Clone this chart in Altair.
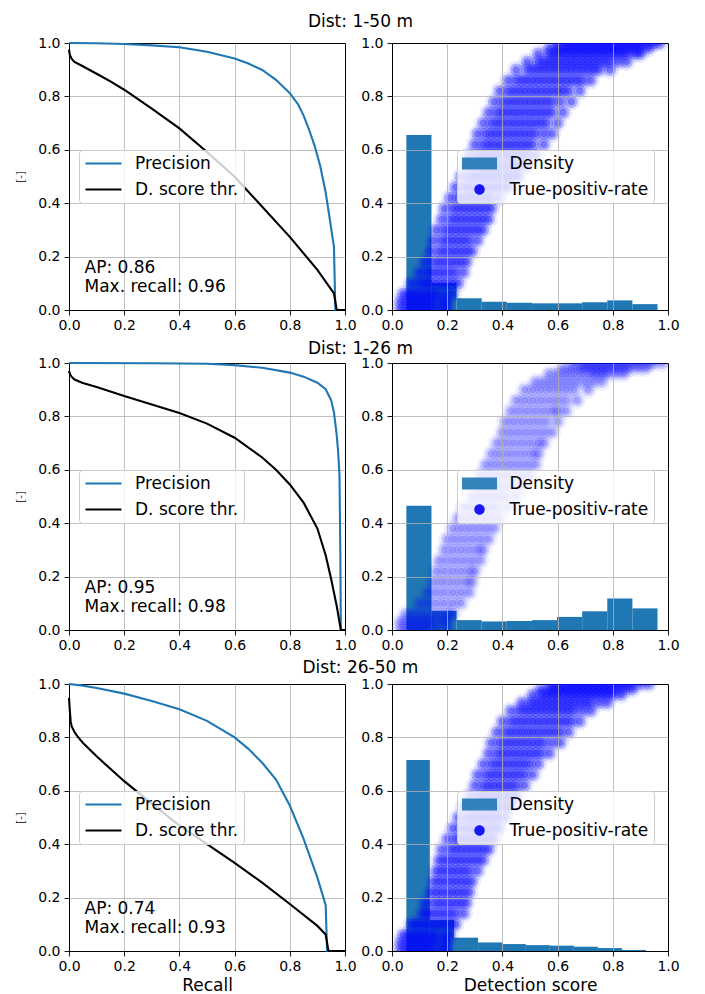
import altair as alt
import pandas as pd

FONT = "DejaVu Sans"
TICKS = [0.0, 0.2, 0.4, 0.6, 0.8, 1.0]
ROW_TITLES = ["Dist: 1-50 m", "Dist: 1-26 m", "Dist: 26-50 m"]
AP_TEXT = [["AP: 0.86", "Max. recall: 0.96"],
           ["AP: 0.95", "Max. recall: 0.98"],
           ["AP: 0.74", "Max. recall: 0.93"]]
SERIES_L = ["Precision", "D. score thr."]
SERIES_R = ["Density", "True-positiv-rate"]

# ---- precision / recall curves (left column) ----
PREC_RECALL = [
    [0.0, 0.1, 0.2, 0.3, 0.4, 0.5, 0.6, 0.65, 0.7, 0.75, 0.8, 0.83, 0.85, 0.87, 0.89, 0.91, 0.93, 0.945, 0.955, 0.96, 0.965, 1.0],
    [0.0, 0.3, 0.5, 0.6, 0.7, 0.8, 0.85, 0.9, 0.93, 0.95, 0.96, 0.97, 0.975, 0.98, 0.983, 0.985, 1.0],
    [0.0, 0.05, 0.1, 0.2, 0.3, 0.4, 0.5, 0.6, 0.65, 0.7, 0.75, 0.8, 0.85, 0.9, 0.93, 0.935, 1.0],
]
PREC_VALUE = [
    [1.0, 0.999, 0.996, 0.991, 0.984, 0.967, 0.942, 0.923, 0.899, 0.862, 0.812, 0.77, 0.728, 0.675, 0.615, 0.54, 0.44, 0.34, 0.27, 0.237, 0.0, 0.0],
    [1.0, 0.999, 0.997, 0.992, 0.982, 0.964, 0.949, 0.926, 0.902, 0.86, 0.815, 0.73, 0.67, 0.58, 0.3, 0.0, 0.0],
    [1.0, 0.994, 0.985, 0.964, 0.936, 0.905, 0.862, 0.80, 0.757, 0.705, 0.642, 0.545, 0.42, 0.275, 0.172, 0.0, 0.0],
]
THR_RECALL = [
    [0.0, 0.003, 0.01, 0.02, 0.05, 0.1, 0.15, 0.2, 0.3, 0.4, 0.5, 0.6, 0.7, 0.8, 0.9, 0.96, 0.97, 1.0],
    [0.0, 0.005, 0.01, 0.02, 0.05, 0.1, 0.2, 0.3, 0.4, 0.5, 0.6, 0.7, 0.75, 0.8, 0.85, 0.9, 0.93, 0.95, 0.97, 0.985, 1.0],
    [0.0, 0.003, 0.006, 0.01, 0.02, 0.03, 0.05, 0.1, 0.2, 0.3, 0.4, 0.5, 0.6, 0.7, 0.8, 0.9, 0.93, 0.94, 1.0],
]
THR_VALUE = [
    [0.975, 0.955, 0.94, 0.929, 0.913, 0.885, 0.856, 0.825, 0.754, 0.68, 0.592, 0.499, 0.387, 0.274, 0.15, 0.062, 0.0, 0.0],
    [0.97, 0.955, 0.948, 0.938, 0.925, 0.91, 0.876, 0.845, 0.813, 0.773, 0.72, 0.646, 0.60, 0.545, 0.477, 0.38, 0.28, 0.19, 0.09, 0.0, 0.0],
    [0.948, 0.90, 0.86, 0.84, 0.82, 0.805, 0.78, 0.729, 0.636, 0.552, 0.47, 0.40, 0.33, 0.256, 0.176, 0.094, 0.062, 0.0, 0.0],
]

# ---- detection score histograms (right column) ----
HIST_EDGES = [
    [0.052, 0.143, 0.234, 0.325, 0.416, 0.507, 0.598, 0.689, 0.780, 0.871, 0.962],
    [0.052, 0.143, 0.234, 0.325, 0.416, 0.507, 0.598, 0.689, 0.780, 0.871, 0.962],
    [0.052, 0.137, 0.225, 0.312, 0.399, 0.485, 0.572, 0.659, 0.746, 0.833, 0.920],
]
HIST_DENS = [
    [0.655, 0.101, 0.044, 0.031, 0.027, 0.025, 0.025, 0.029, 0.036, 0.022],
    [0.465, 0.072, 0.037, 0.032, 0.034, 0.037, 0.049, 0.070, 0.118, 0.081],
    [0.715, 0.116, 0.050, 0.032, 0.026, 0.022, 0.020, 0.016, 0.011, 0.004],
]

# ---- true-positive-rate scatter: y levels and the scores seen at each level ----
TPR_LEVELS = [0.00, 0.03, 0.06, 0.10, 0.14, 0.18, 0.22, 0.26, 0.30, 0.34, 0.38, 0.42, 0.46, 0.50,
              0.54, 0.58, 0.62, 0.66, 0.70, 0.74, 0.78, 0.82, 0.86, 0.90, 0.93, 0.96, 0.98, 1.00]
TPR_SCORES_1 = [
    [0.03, 0.05, 0.07, 0.09, 0.11, 0.13, 0.15, 0.18, 0.20],
    [0.03, 0.05, 0.07, 0.09, 0.11, 0.13, 0.15, 0.18, 0.20],
    [0.04, 0.06, 0.08, 0.10, 0.12, 0.14, 0.16, 0.19, 0.22],
    [0.07, 0.10, 0.12, 0.14, 0.16, 0.18, 0.20, 0.22, 0.24],
    [0.10, 0.13, 0.15, 0.17, 0.19, 0.21, 0.23, 0.26],
    [0.12, 0.15, 0.17, 0.19, 0.21, 0.23, 0.25, 0.27],
    [0.14, 0.17, 0.19, 0.21, 0.23, 0.25, 0.27, 0.29],
    [0.15, 0.18, 0.20, 0.22, 0.24, 0.26, 0.28, 0.31],
    [0.16, 0.19, 0.21, 0.23, 0.25, 0.27, 0.29, 0.31, 0.33],
    [0.18, 0.21, 0.23, 0.25, 0.27, 0.29, 0.31, 0.33, 0.35],
    [0.19, 0.22, 0.24, 0.26, 0.28, 0.30, 0.32, 0.34, 0.36],
    [0.21, 0.24, 0.26, 0.28, 0.30, 0.32, 0.34, 0.36, 0.39],
    [0.23, 0.26, 0.28, 0.30, 0.32, 0.34, 0.36, 0.38, 0.40, 0.42],
    [0.25, 0.28, 0.30, 0.32, 0.34, 0.36, 0.38, 0.40, 0.42, 0.44, 0.46],
    [0.27, 0.30, 0.32, 0.34, 0.36, 0.38, 0.40, 0.42, 0.44, 0.46, 0.49],
    [0.28, 0.31, 0.33, 0.35, 0.37, 0.39, 0.41, 0.43, 0.45, 0.47, 0.49, 0.52],
    [0.30, 0.33, 0.35, 0.37, 0.39, 0.41, 0.43, 0.45, 0.47, 0.49, 0.51, 0.55],
    [0.31, 0.34, 0.36, 0.38, 0.40, 0.42, 0.44, 0.46, 0.48, 0.50, 0.52, 0.55, 0.58],
    [0.33, 0.36, 0.38, 0.40, 0.42, 0.44, 0.46, 0.48, 0.50, 0.52, 0.54, 0.56, 0.60],
    [0.35, 0.38, 0.40, 0.42, 0.44, 0.46, 0.48, 0.50, 0.52, 0.54, 0.56, 0.58, 0.62],
    [0.37, 0.40, 0.42, 0.44, 0.46, 0.48, 0.50, 0.52, 0.54, 0.56, 0.58, 0.61, 0.65],
    [0.39, 0.42, 0.44, 0.46, 0.48, 0.50, 0.52, 0.54, 0.56, 0.58, 0.60, 0.62, 0.64, 0.68],
    [0.42, 0.45, 0.47, 0.49, 0.51, 0.53, 0.55, 0.57, 0.59, 0.61, 0.63, 0.65, 0.67, 0.69, 0.72],
    [0.45, 0.49, 0.51, 0.53, 0.55, 0.57, 0.59, 0.61, 0.63, 0.65, 0.67, 0.69, 0.71, 0.73, 0.75, 0.79],
    [0.49, 0.53, 0.55, 0.57, 0.59, 0.61, 0.63, 0.65, 0.67, 0.69, 0.71, 0.73, 0.75, 0.77, 0.79, 0.82, 0.85],
    [0.53, 0.57, 0.59, 0.61, 0.63, 0.65, 0.67, 0.69, 0.71, 0.73, 0.75, 0.77, 0.79, 0.81, 0.83, 0.85, 0.88, 0.90],
    [0.57, 0.60, 0.62, 0.64, 0.66, 0.68, 0.70, 0.72, 0.74, 0.76, 0.78, 0.80, 0.82, 0.84, 0.86, 0.88, 0.90, 0.93],
    [0.60, 0.63, 0.65, 0.67, 0.69, 0.71, 0.73, 0.75, 0.77, 0.79, 0.81, 0.83, 0.85, 0.87, 0.89, 0.91, 0.93, 0.95, 0.97],
]
TPR_SCORES_2 = [
    [0.03, 0.05, 0.07, 0.09, 0.11, 0.13, 0.16, 0.20],
    [0.03, 0.05, 0.07, 0.09, 0.11, 0.13, 0.15, 0.18, 0.20],
    [0.05, 0.08, 0.11, 0.14, 0.17, 0.20, 0.22],
    [0.10, 0.13, 0.16, 0.19, 0.22, 0.25],
    [0.13, 0.16, 0.19, 0.22, 0.25, 0.28],
    [0.15, 0.18, 0.21, 0.24, 0.27, 0.29],
    [0.16, 0.19, 0.22, 0.25, 0.28, 0.30],
    [0.17, 0.20, 0.23, 0.26, 0.29, 0.32],
    [0.19, 0.22, 0.25, 0.28, 0.31, 0.33],
    [0.20, 0.23, 0.26, 0.29, 0.32, 0.35],
    [0.22, 0.25, 0.28, 0.31, 0.34, 0.37],
    [0.24, 0.27, 0.30, 0.33, 0.36, 0.39],
    [0.26, 0.29, 0.32, 0.35, 0.38, 0.42],
    [0.29, 0.32, 0.35, 0.38, 0.41, 0.45],
    [0.31, 0.34, 0.37, 0.40, 0.43, 0.47],
    [0.32, 0.35, 0.38, 0.41, 0.44, 0.47, 0.50],
    [0.34, 0.37, 0.40, 0.43, 0.46, 0.49, 0.52],
    [0.36, 0.39, 0.42, 0.45, 0.48, 0.51, 0.53],
    [0.38, 0.41, 0.44, 0.47, 0.50, 0.53, 0.55],
    [0.40, 0.43, 0.46, 0.49, 0.52, 0.55, 0.58],
    [0.41, 0.44, 0.47, 0.50, 0.53, 0.56, 0.60],
    [0.43, 0.46, 0.49, 0.52, 0.55, 0.58, 0.60, 0.63],
    [0.45, 0.48, 0.51, 0.54, 0.57, 0.60, 0.63, 0.67],
    [0.48, 0.51, 0.54, 0.57, 0.60, 0.63, 0.66, 0.71],
    [0.52, 0.55, 0.58, 0.61, 0.64, 0.67, 0.70, 0.73, 0.76],
    [0.57, 0.60, 0.63, 0.66, 0.69, 0.72, 0.74, 0.76, 0.78, 0.81, 0.84],
    [0.62, 0.65, 0.68, 0.70, 0.72, 0.74, 0.76, 0.78, 0.80, 0.82, 0.84, 0.86, 0.89, 0.92],
    [0.66, 0.69, 0.71, 0.73, 0.75, 0.77, 0.79, 0.81, 0.83, 0.85, 0.87, 0.89, 0.91, 0.93, 0.95, 0.98],
]
TPR_SCORES_3 = [
    [0.03, 0.05, 0.07, 0.09, 0.11, 0.13, 0.15, 0.18, 0.20],
    [0.03, 0.05, 0.07, 0.09, 0.11, 0.13, 0.15, 0.18, 0.20],
    [0.04, 0.06, 0.08, 0.10, 0.12, 0.14, 0.16, 0.19, 0.21],
    [0.07, 0.09, 0.11, 0.13, 0.15, 0.17, 0.19, 0.21, 0.23],
    [0.11, 0.13, 0.15, 0.17, 0.19, 0.21, 0.23, 0.26],
    [0.12, 0.15, 0.17, 0.19, 0.21, 0.23, 0.25, 0.27],
    [0.14, 0.16, 0.18, 0.20, 0.22, 0.24, 0.26, 0.28],
    [0.15, 0.17, 0.19, 0.21, 0.23, 0.25, 0.27, 0.29],
    [0.16, 0.18, 0.20, 0.22, 0.24, 0.26, 0.28, 0.31],
    [0.17, 0.19, 0.21, 0.23, 0.25, 0.27, 0.29, 0.31, 0.33],
    [0.18, 0.21, 0.23, 0.25, 0.27, 0.29, 0.31, 0.33, 0.35],
    [0.20, 0.23, 0.25, 0.27, 0.29, 0.31, 0.33, 0.35, 0.37],
    [0.22, 0.25, 0.27, 0.29, 0.31, 0.33, 0.35, 0.37, 0.39],
    [0.24, 0.27, 0.29, 0.31, 0.33, 0.35, 0.37, 0.39, 0.41],
    [0.26, 0.29, 0.31, 0.33, 0.35, 0.37, 0.39, 0.41, 0.43],
    [0.28, 0.31, 0.33, 0.35, 0.37, 0.39, 0.41, 0.43, 0.45],
    [0.30, 0.33, 0.35, 0.37, 0.39, 0.41, 0.43, 0.45, 0.48],
    [0.31, 0.34, 0.36, 0.38, 0.40, 0.42, 0.44, 0.46, 0.48, 0.51],
    [0.33, 0.36, 0.38, 0.40, 0.42, 0.44, 0.46, 0.48, 0.50, 0.53],
    [0.35, 0.38, 0.40, 0.42, 0.44, 0.46, 0.48, 0.50, 0.52, 0.54, 0.57],
    [0.36, 0.39, 0.41, 0.43, 0.45, 0.47, 0.49, 0.51, 0.53, 0.55, 0.58, 0.61],
    [0.38, 0.41, 0.43, 0.45, 0.47, 0.49, 0.51, 0.53, 0.55, 0.57, 0.59, 0.61, 0.64],
    [0.40, 0.43, 0.45, 0.47, 0.49, 0.51, 0.53, 0.55, 0.57, 0.59, 0.61, 0.63, 0.65, 0.68],
    [0.43, 0.46, 0.48, 0.50, 0.52, 0.54, 0.56, 0.58, 0.60, 0.62, 0.64, 0.66, 0.69, 0.72],
    [0.47, 0.50, 0.52, 0.54, 0.56, 0.58, 0.60, 0.62, 0.64, 0.66, 0.68, 0.70, 0.72, 0.75, 0.78],
    [0.51, 0.54, 0.56, 0.58, 0.60, 0.62, 0.64, 0.66, 0.68, 0.70, 0.72, 0.74, 0.76, 0.78, 0.80, 0.83],
    [0.54, 0.57, 0.59, 0.61, 0.63, 0.65, 0.67, 0.69, 0.71, 0.73, 0.75, 0.77, 0.79, 0.81, 0.84, 0.87],
    [0.58, 0.61, 0.63, 0.65, 0.67, 0.69, 0.71, 0.73, 0.75, 0.77, 0.79, 0.81, 0.83, 0.85, 0.87, 0.90, 0.93],
]
TPR_SCORES = [TPR_SCORES_1, TPR_SCORES_2, TPR_SCORES_3]

# ---- styling ----
W, H = 276, 267
BLUE = "#1f77b4"
RECT_PATH = "M-1,-0.34L1,-0.34L1,0.34L-1,0.34Z"
CIRC_PATH = "M0.3,0A0.3,0.3,0,1,1,-0.3,0A0.3,0.3,0,1,1,0.3,0Z"
GRID_COND = {"condition": {"test": "datum.value < 0.001 || datum.value > 0.999", "value": 0}, "value": 1}
SC = alt.Scale(domain=[0, 1], nice=False, zero=False)
TITLE_OFFSETS = [5, -2, -0.5]
# soft-edged markers: (size, fill opacity) for each of the stacked marker rings, per row
PT_STYLE = [
    [(3600, 0.09), (1700, 0.25), (560, 0.32)],
    [(3600, 0.06), (1700, 0.15), (560, 0.2)],
    [(3600, 0.09), (1700, 0.25), (560, 0.32)],
]


def axis_x(title, z):
    return alt.Axis(values=TICKS, format=".1f", title=title, zindex=z, grid=True,
                    gridOpacity=GRID_COND, labelFlush=False, labelOverlap=False,
                    labelPadding=3, titlePadding=4, titleFontSize=17)


def axis_y(title, z):
    return alt.Axis(values=TICKS, format=".1f", title=title, zindex=z, grid=True,
                    gridOpacity=GRID_COND, labelFlush=False, labelOverlap=False,
                    labelPadding=4, titlePadding=12, titleFontSize=10, titleColor="#333333")


def legend(x, y, stroke):
    kw = dict(title=None, orient="none", legendX=x, legendY=y, labelFont=FONT, labelFontSize=17,
              labelColor="black", rowPadding=8, clipHeight=17, padding=5,
              fillColor="rgba(255,255,255,0.8)", strokeColor="#cccccc", cornerRadius=3, zindex=2)
    if stroke:
        kw.update(symbolType="stroke", symbolSize=1296, symbolStrokeWidth=2.1, labelOffset=12)
    else:
        kw.update(symbolSize=1225, symbolOpacity=0.9, symbolStrokeWidth=0, labelOffset=12.5)
    return alt.Legend(**kw)


def left_panel(i):
    last = i == 2
    rows = []
    for k, (r, v) in enumerate(zip(PREC_RECALL[i], PREC_VALUE[i])):
        rows.append({"recall": r, "value": v, "series": SERIES_L[0], "idx": k})
    for k, (r, v) in enumerate(zip(THR_RECALL[i], THR_VALUE[i])):
        rows.append({"recall": r, "value": v, "series": SERIES_L[1], "idx": k})
    df = pd.DataFrame(rows)
    x = alt.X("recall:Q", scale=SC, axis=axis_x("Recall" if last else None, 0))
    y = alt.Y("value:Q", scale=SC, axis=axis_y("[-]", 0))
    color = alt.Color("series:N", scale=alt.Scale(domain=SERIES_L, range=[BLUE, "#000000"]),
                      legend=legend(10, 107, True))
    base = alt.Chart(df)
    prec = base.transform_filter(alt.datum.series == SERIES_L[0]).mark_line(strokeWidth=2.1).encode(
        x=x, y=y, color=color, order="idx:Q")
    thr = base.transform_filter(alt.datum.series == SERIES_L[1]).mark_line(strokeWidth=2.1).encode(
        x=x, y=y, color=color, order="idx:Q")
    texts = []
    for line, ypx in zip(AP_TEXT[i], [230.3, 248.7]):
        texts.append(alt.Chart(alt.Data(values=[{"t": line}])).mark_text(
            align="left", baseline="alphabetic", font=FONT, fontSize=17, color="black").encode(
            x=alt.value(15.5), y=alt.value(ypx), text="t:N"))
    return alt.layer(prec, thr, *texts).properties(width=W, height=H)


def right_panel(i):
    last = i == 2
    e = HIST_EDGES[i]
    hdf = pd.DataFrame({"lo": e[:-1], "hi": e[1:], "dens": HIST_DENS[i]})
    pts = []
    for lvl, xs in zip(TPR_LEVELS, TPR_SCORES[i]):
        for s in xs:
            pts.append({"score": s, "tpr": lvl, "series": SERIES_R[1]})
    pdf = pd.DataFrame(pts)
    ax = axis_x("Detection score" if last else None, 1)
    ay = axis_y(None, 1)
    bars = alt.Chart(hdf).mark_rect(color=BLUE).encode(
        x=alt.X("lo:Q", scale=SC, axis=ax), x2="hi:Q",
        y=alt.Y("dens:Q", scale=SC, axis=ay), y2=alt.datum(0))
    lg = legend(65, 107, False)
    enc = dict(
        x=alt.X("score:Q", scale=SC, axis=ax),
        y=alt.Y("tpr:Q", scale=SC, axis=ay),
        color=alt.Color("series:N", scale=alt.Scale(domain=SERIES_R, range=[BLUE, "#0000ff"]), legend=lg),
        shape=alt.Shape("series:N", scale=alt.Scale(domain=SERIES_R, range=[RECT_PATH, CIRC_PATH]), legend=lg))
    base = alt.Chart(pdf)
    layers = [bars]
    for size, op in PT_STYLE[i]:
        layers.append(base.mark_point(filled=True, size=size, opacity=1, fillOpacity=op,
                                      strokeWidth=0, clip=True).encode(**enc))
    return alt.layer(*layers).properties(width=W, height=H)


rows = []
for i in range(3):
    t = alt.TitleParams(ROW_TITLES[i], font=FONT, fontSize=17, fontWeight="normal", color="black",
                        anchor="middle", offset=TITLE_OFFSETS[i], dx=13)
    r = alt.hconcat(left_panel(i), right_panel(i), spacing=3, title=t).resolve_scale(
        color="independent", shape="independent").resolve_legend(color="independent", shape="independent")
    rows.append(r)

chart = alt.vconcat(*rows, spacing=6).resolve_scale(
    color="independent", shape="independent").resolve_legend(
    color="independent", shape="independent").properties(
    padding={"left": 7, "top": 4, "right": 4, "bottom": 2}).configure(font=FONT).configure_view(
    stroke="black", strokeWidth=1).configure_axis(
    labelFont=FONT, labelFontSize=14, labelColor="black", tickColor="black", tickWidth=0.9,
    tickSize=5, domainColor="black", domainWidth=1, gridColor="#b0b0b0", gridWidth=0.8,
    titleFont=FONT, titleFontWeight="normal", titleColor="black")

chart.save("out.html", embed_options={"renderer": "svg", "actions": False})
